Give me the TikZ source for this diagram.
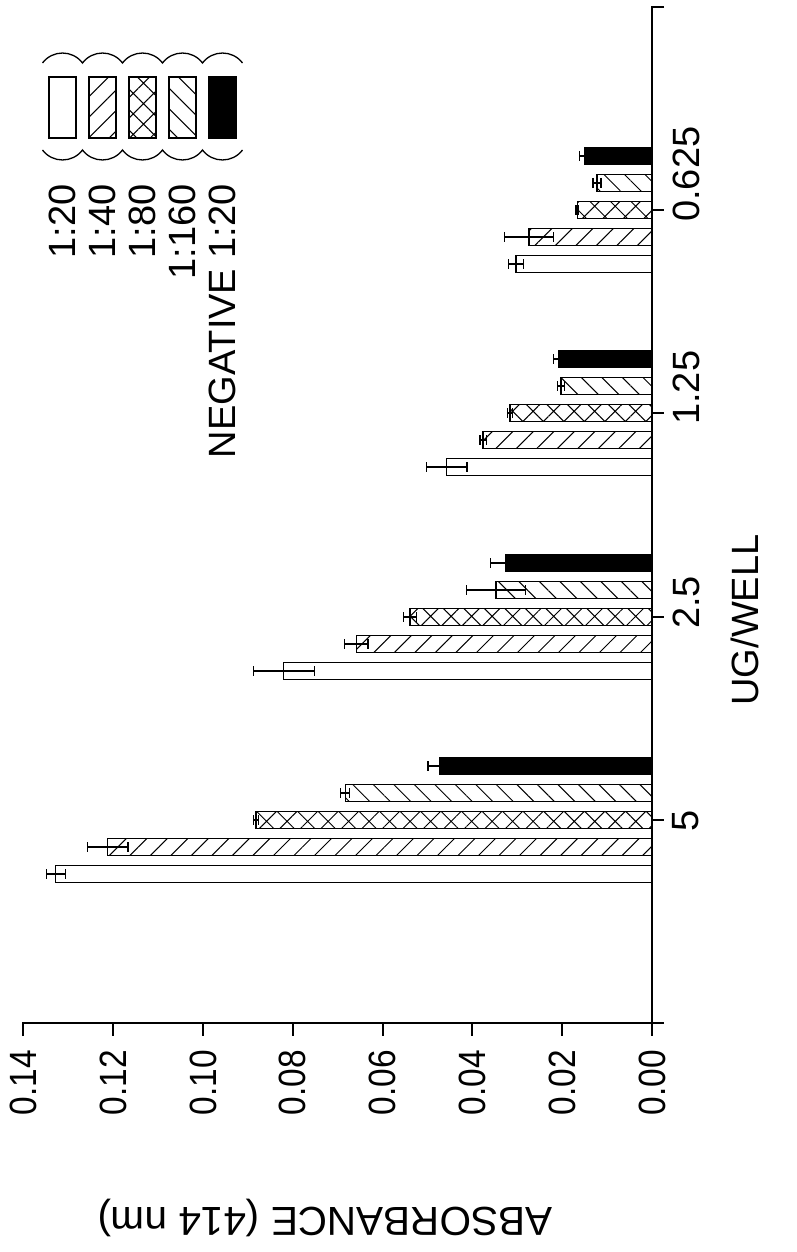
\documentclass[tikz,border=0pt]{standalone}
\usepackage{fontspec}
\setmainfont{Liberation Sans}
\newfontfamily\narrowfont{Liberation Sans}[FakeStretch=0.88]
\usetikzlibrary{patterns.meta}
\newcommand\hbarplot[4]{%
  \path[#4] ({652-(#2)*4479},{#1-8.75}) rectangle (652,{#1+8.75});
  \draw[errline] ({652-(#2+#3)*4479},#1) -- ({652-(#2-#3)*4479},#1);
  \draw[errline] ({652-(#2+#3)*4479},{#1-5}) -- ++(0,10);
  \draw[errline] ({652-(#2-#3)*4479},{#1-5}) -- ++(0,10);
}
\begin{document}
\begin{tikzpicture}[x=1pt,y=-1pt,
  lab/.style={font=\fontsize{38}{40}\selectfont, inner sep=0pt},
  ticklab/.style={font=\narrowfont\fontsize{38}{40}\selectfont, inner sep=0pt},
  axisline/.style={line width=2pt},
  barline/.style={line width=1.3pt},
  p20/.style={barline, draw=black, fill=white},
  p40/.style={barline, draw=black, pattern={Lines[angle=45,distance=14.5pt,line width=1pt]}},
  p80/.style={barline, draw=black, pattern={Hatch[angle=45,distance=14.5pt,line width=1pt]}},
  p160/.style={barline, draw=black, pattern={Lines[angle=-45,distance=14.5pt,line width=1pt]}},
  pneg/.style={barline, draw=black, fill=black},
  errline/.style={line width=1.3pt}
]
\fill[white] (0,0) rectangle (797,1252);
\useasboundingbox (0,0) rectangle (797,1252);

% group 5 (centre 820)
\hbarplot{874}{0.1331}{0.0021}{p20}
\hbarplot{847}{0.1215}{0.0045}{p40}
\hbarplot{820}{0.0884}{0.0005}{p80}
\hbarplot{793}{0.0685}{0.0010}{p160}
\hbarplot{766}{0.0475}{0.0025}{pneg}
% group 2.5 (centre 617)
\hbarplot{671}{0.0822}{0.0068}{p20}
\hbarplot{644}{0.0660}{0.0026}{p40}
\hbarplot{617}{0.0540}{0.0014}{p80}
\hbarplot{590}{0.0348}{0.0066}{p160}
\hbarplot{563}{0.0326}{0.0034}{pneg}
% group 1.25 (centre 413)
\hbarplot{467}{0.0458}{0.0045}{p20}
\hbarplot{440}{0.0377}{0.0007}{p40}
\hbarplot{413}{0.0317}{0.0005}{p80}
\hbarplot{386}{0.0203}{0.0008}{p160}
\hbarplot{359}{0.0208}{0.0012}{pneg}
% group 0.625 (centre 210)
\hbarplot{264}{0.0304}{0.0017}{p20}
\hbarplot{237}{0.0275}{0.0055}{p40}
\hbarplot{210}{0.0167}{0.0003}{p80}
\hbarplot{183}{0.0123}{0.0009}{p160}
\hbarplot{156}{0.0150}{0.0012}{pneg}

% axes
\draw[axisline] (664,7) -- (652,7) -- (652,1036);
\draw[axisline] (23,1036) -- (23,1023) -- (664,1023);
\foreach \k in {1,...,6} \draw[axisline] ({652-\k*89.8},1023) -- ++(0,13);
\foreach \c in {210,413,617,820} \draw[axisline] (652,\c) -- (664,\c);

% absorbance tick labels
\foreach \k/\t in {0/0.00,1/0.02,2/0.04,3/0.06,4/0.08,5/0.10,6/0.12,7/0.14}
  \node[ticklab, rotate=90, anchor=east] (t\k) at ({652-\k*89.8},1050) {\t};
\node[lab, font=\fontsize{40.5}{42}\selectfont, rotate=180] (ylab) at (325,1218) {ABSORBANCE (414 nm)};

% category labels
\node[lab, rotate=90, anchor=west] (c5) at (686,832) {5};
\node[lab, rotate=90, anchor=west] (c25) at (686,629) {2.5};
\node[lab, rotate=90, anchor=west] (c125) at (686,425) {1.25};
\node[lab, rotate=90, anchor=west] (c0625) at (686,222) {0.625};
\node[lab, rotate=90] (xlab) at (745,620) {UG/WELL};

% legend
\path[p20]  (49,77) rectangle (76,138);
\path[p40]  (89,77) rectangle (116,138);
\path[p80]  (129,77) rectangle (156,138);
\path[p160] (169,77) rectangle (196,138);
\path[pneg] (209,77) rectangle (236,138);
\draw[barline] (42.5,63)
  .. controls (52.5,49.7) and (72.5,49.7) .. (82.5,63)
  .. controls (92.5,49.7) and (112.5,49.7) .. (122.5,63)
  .. controls (132.5,49.7) and (152.5,49.7) .. (162.5,63)
  .. controls (172.5,49.7) and (192.5,49.7) .. (202.5,63)
  .. controls (212.5,49.7) and (232.5,49.7) .. (242.5,63);
\draw[barline] (42.5,150)
  .. controls (52.5,163.3) and (72.5,163.3) .. (82.5,150)
  .. controls (92.5,163.3) and (112.5,163.3) .. (122.5,150)
  .. controls (132.5,163.3) and (152.5,163.3) .. (162.5,150)
  .. controls (172.5,163.3) and (192.5,163.3) .. (202.5,150)
  .. controls (212.5,163.3) and (232.5,163.3) .. (242.5,150);
\node[lab, rotate=90, anchor=east] (l1) at (62.5,184) {1:20};
\node[lab, rotate=90, anchor=east] (l2) at (102.5,184) {1:40};
\node[lab, rotate=90, anchor=east] (l3) at (142.5,184) {1:80};
\node[lab, rotate=90, anchor=east] (l4) at (182.5,184) {1:160};
\node[lab, rotate=90, anchor=east] (l5) at (222.5,184) {NEGATIVE 1:20};
\end{tikzpicture}
\end{document}
